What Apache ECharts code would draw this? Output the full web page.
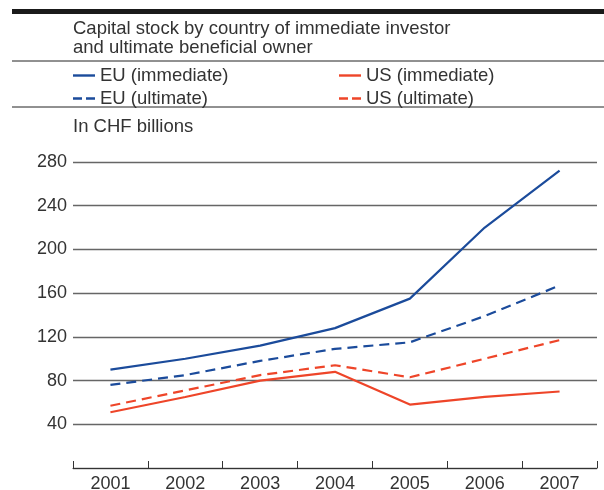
<!DOCTYPE html>
<html>
<head>
<meta charset="utf-8">
<script src="https://cdn.jsdelivr.net/npm/echarts@6/dist/echarts.min.js"></script>
<style>
  html, body { margin: 0; padding: 0; background: #fff; }
  #chart { width: 604px; height: 490px; }
</style>
</head>
<body>
<div id="chart"></div>
<script>
const years = ['2001', '2002', '2003', '2004', '2005', '2006', '2007'];
const euImmediate = [90, 100, 112, 128, 155, 220, 272];
const euUltimate = [76, 85, 98, 109, 115, 139, 167];
const usImmediate = [51, 65, 80, 88, 58, 65, 70];
const usUltimate = [57, 71, 85, 94, 83, 100, 117];
const yTicks = { min: 0, max: 280, interval: 40 };

const BLUE = '#1b4b9b';
const RED = '#ee4529';
const TEXT = '#333';
const FONT = 'Liberation Sans';

const solidIcon = 'path://M0,0H22V2.4H0Z';
const dashIcon = 'path://M0,0H9V2.4H0Z M13,0H22V2.4H13Z';

const chart = echarts.init(document.getElementById('chart'));

// one legend per entry, so each can be placed like the original two-column key
const legendItem = (name, icon, left, top) => ({
  left: left,
  top: top,
  itemWidth: 22,
  itemHeight: 2.4,
  selectedMode: false,
  padding: 0,
  textStyle: { fontSize: 18.5, color: TEXT, fontFamily: FONT },
  data: [{ name: name, icon: icon }]
});

chart.setOption({
  animation: false,
  textStyle: { fontFamily: FONT },
  graphic: [
    { type: 'rect', shape: { x: 12, y: 9, width: 592, height: 5 }, style: { fill: '#1a1a1a' } },
    {
      type: 'text', left: 73, top: 19,
      style: {
        text: 'Capital stock by country of immediate investor\nand ultimate beneficial owner',
        fontSize: 18.5, lineHeight: 19, fill: TEXT, fontFamily: FONT
      }
    },
    { type: 'line', shape: { x1: 12, y1: 61, x2: 604, y2: 61 }, style: { stroke: '#222', lineWidth: 1 } },
    { type: 'line', shape: { x1: 12, y1: 107, x2: 604, y2: 107 }, style: { stroke: '#222', lineWidth: 1 } },
    {
      type: 'text', left: 73, top: 117,
      style: { text: 'In CHF billions', fontSize: 18.5, fill: TEXT, fontFamily: FONT }
    }
  ],
  legend: [
    legendItem('EU (immediate)', solidIcon, 73, 66),
    legendItem('EU (ultimate)', dashIcon, 73, 89),
    legendItem('US (immediate)', solidIcon, 339, 66),
    legendItem('US (ultimate)', dashIcon, 339, 89)
  ],
  grid: { left: 73, right: 7, top: 162, bottom: 22, outerBoundsMode: 'none' },
  xAxis: {
    type: 'category',
    data: years,
    boundaryGap: true,
    axisLine: { lineStyle: { color: '#333', width: 1 } },
    axisTick: { show: true, inside: true, length: 7, lineStyle: { color: '#333' } },
    axisLabel: { color: TEXT, fontSize: 18, margin: 7, fontFamily: FONT }
  },
  yAxis: {
    type: 'value',
    min: yTicks.min,
    max: yTicks.max,
    interval: yTicks.interval,
    axisLine: { show: false },
    axisTick: { show: false },
    axisLabel: { color: TEXT, fontSize: 18, margin: 6, showMinLabel: false, fontFamily: FONT },
    splitLine: { lineStyle: { color: '#666', width: 1.3 } }
  },
  series: [
    { name: 'EU (immediate)', type: 'line', data: euImmediate, symbol: 'none', color: BLUE, lineStyle: { width: 2.2, color: BLUE } },
    { name: 'EU (ultimate)', type: 'line', data: euUltimate, symbol: 'none', color: BLUE, lineStyle: { width: 2.2, color: BLUE, type: [10, 6] } },
    { name: 'US (immediate)', type: 'line', data: usImmediate, symbol: 'none', color: RED, lineStyle: { width: 2.2, color: RED } },
    { name: 'US (ultimate)', type: 'line', data: usUltimate, symbol: 'none', color: RED, lineStyle: { width: 2.2, color: RED, type: [10, 6] } }
  ]
});
</script>
</body>
</html>
